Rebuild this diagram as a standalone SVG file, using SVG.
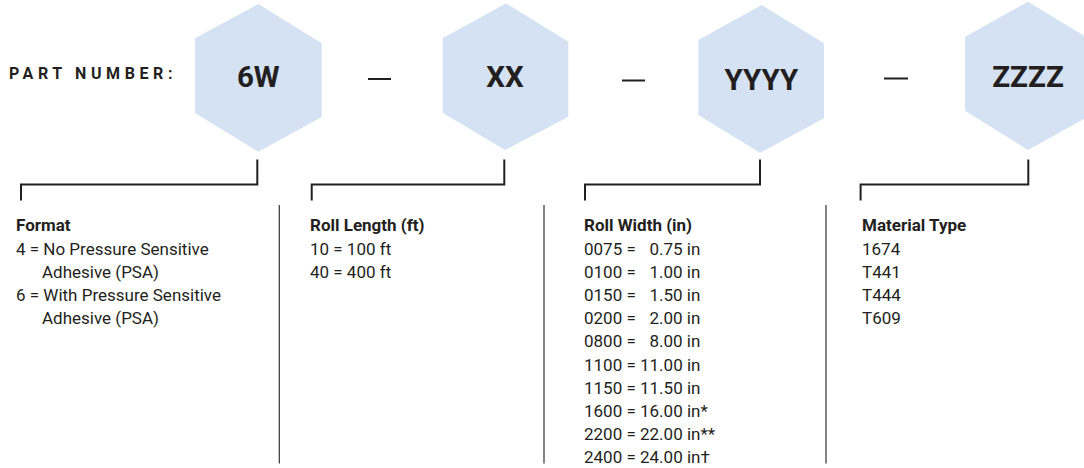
<svg xmlns="http://www.w3.org/2000/svg" width="1084" height="468" viewBox="0 0 1084 468">
<style>
.hex{fill:#d4e2f3;stroke:none}
.hl{font-family:Roboto,"Liberation Sans",sans-serif;font-weight:700;font-size:29.5px;fill:#231f20;text-anchor:middle}
.pn{font-family:Roboto,"Liberation Sans",sans-serif;font-weight:700;font-size:16px;letter-spacing:4.6px;fill:#231f20}
.h{font-family:Roboto,"Liberation Sans",sans-serif;font-weight:700;font-size:17px;fill:#231f20}
.t{font-family:Roboto,"Liberation Sans",sans-serif;font-size:17px;fill:#231f20}
.br{fill:none;stroke:#231f20;stroke-width:2}
.sep{fill:none;stroke:#333;stroke-width:1.2}
.dash{stroke:#231f20;stroke-width:2}
</style>
<rect width="1084" height="468" fill="#fff"/>
<text class="pn" x="9" y="78.5">PART NUMBER:</text>
<g id="node-6W">
<polygon class="hex" points="258.3,4 321.7,43.3 321.7,117 258.3,151.7 195,113 195,38.3"/>
<text class="hl" x="258.3" y="86.5">6W</text>
</g>
<g id="node-XX">
<polygon class="hex" points="506,3.3 568.3,41.7 568.3,116.7 505,150 442.7,112.7 442.7,38.3"/>
<text class="hl" x="505" y="87">XX</text>
</g>
<g id="node-YYYY">
<polygon class="hex" points="761.7,5 824,43.3 824,118.3 760,152.7 698.3,115 698.3,40"/>
<text class="hl" x="761.4" y="89.5">YYYY</text>
</g>
<g id="node-ZZZZ">
<polygon class="hex" points="1028,1.7 1091,40 1091,115 1028,150 965,110.7 965,36.7"/>
<text class="hl" x="1028" y="86.5">ZZZZ</text>
</g>
<g id="dashes">
<line class="dash" x1="368" y1="79" x2="391" y2="79"/>
<line class="dash" x1="622" y1="80.5" x2="645" y2="80.5"/>
<line class="dash" x1="884" y1="78.5" x2="908" y2="78.5"/>
</g>
<g id="connectors">
<polyline class="br" points="21,200.5 21,184.5 257.3,184.5 257.3,159.5"/>
<polyline class="br" points="311.7,200.5 311.7,184.5 504.3,184.5 504.3,159.5"/>
<polyline class="br" points="585,200.5 585,184.5 760,184.5 760,159.5"/>
<polyline class="br" points="860.6,200.5 860.6,184.5 1028.3,184.5 1028.3,159.5"/>
<line class="sep" x1="279.3" y1="205" x2="279.3" y2="463.5"/>
<line class="sep" x1="544" y1="205" x2="544" y2="463.5"/>
<line class="sep" x1="826" y1="205" x2="826" y2="463.5"/>
</g>
<g id="format">
<text class="h" x="16" y="231">Format</text>
<text class="t" x="16" y="254.5">4 = No Pressure Sensitive</text>
<text class="t" x="42" y="277.7">Adhesive (PSA)</text>
<text class="t" x="16" y="300.9">6 = With Pressure Sensitive</text>
<text class="t" x="42" y="324.1">Adhesive (PSA)</text>
</g>
<g id="roll-length">
<text class="h" x="310" y="231">Roll Length (ft)</text>
<text class="t" x="310" y="254.5">10 = 100 ft</text>
<text class="t" x="310" y="277.7">40 = 400 ft</text>
</g>
<g id="roll-width">
<text class="h" x="584" y="231">Roll Width (in)</text>
<text class="t" x="584" y="254.5">0075 =<tspan x="649.5">0.75 in</tspan></text>
<text class="t" x="584" y="277.7">0100 =<tspan x="649.5">1.00 in</tspan></text>
<text class="t" x="584" y="300.9">0150 =<tspan x="649.5">1.50 in</tspan></text>
<text class="t" x="584" y="324.1">0200 =<tspan x="649.5">2.00 in</tspan></text>
<text class="t" x="584" y="347.3">0800 =<tspan x="649.5">8.00 in</tspan></text>
<text class="t" x="584" y="370.5">1100 = 11.00 in</text>
<text class="t" x="584" y="393.7">1150 = 11.50 in</text>
<text class="t" x="584" y="416.9">1600 = 16.00 in*</text>
<text class="t" x="584" y="440.1">2200 = 22.00 in**</text>
<text class="t" x="584" y="463.3">2400 = 24.00 in†</text>
</g>
<g id="material-type">
<text class="h" x="862" y="231">Material Type</text>
<text class="t" x="862" y="254.5">1674</text>
<text class="t" x="862" y="277.7">T441</text>
<text class="t" x="862" y="300.9">T444</text>
<text class="t" x="862" y="324.1">T609</text>
</g>
</svg>
